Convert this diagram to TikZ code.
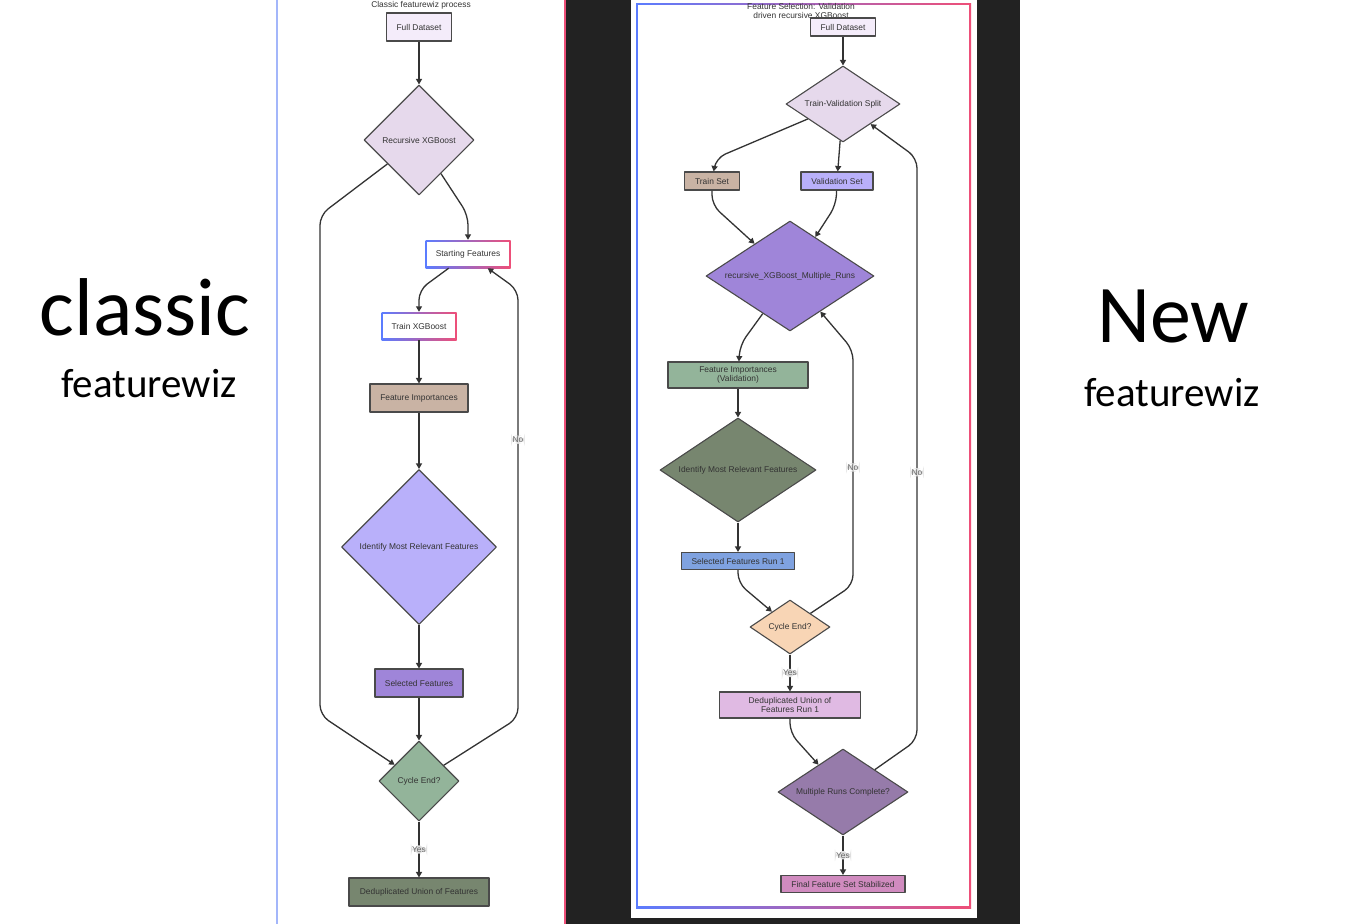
\documentclass[tikz,border=0pt]{standalone}
\usepackage{fontspec}
\setmainfont{Liberation Sans}
\newfontfamily\bigfont{Carlito}
\usetikzlibrary{arrows.meta,shapes.geometric}

\definecolor{ink}{HTML}{333333}
\definecolor{edgegray}{HTML}{4A4A4A}
\definecolor{darkbg}{HTML}{222222}
\definecolor{fblue}{HTML}{5B7CFF}
\definecolor{fpink}{HTML}{EE4F78}
\definecolor{lblue}{HTML}{A3B6FA}
\definecolor{taggray}{HTML}{DEDEDE}
\definecolor{lavender}{HTML}{F4ECFA}
\definecolor{mauve}{HTML}{E6D9EC}
\definecolor{tan}{HTML}{C9B3A4}
\definecolor{periwinkle}{HTML}{B9B0FA}
\definecolor{violet}{HTML}{9F85D9}
\definecolor{sage}{HTML}{93B49A}
\definecolor{moss}{HTML}{77866F}
\definecolor{skyblue}{HTML}{7FA2E0}
\definecolor{peach}{HTML}{F8D5B5}
\definecolor{orchid}{HTML}{E0BAE3}
\definecolor{plum}{HTML}{967BAA}
\definecolor{rose}{HTML}{D08BBF}

\begin{document}
\begin{tikzpicture}[x=1pt,y=-1pt,line join=round,
  >={Triangle[length=5.5pt,width=6pt]},
  every node/.style={font=\fontsize{8.4}{9.6}\selectfont,text=ink},
  box/.style={rectangle,draw=edgegray,line width=1.1pt,minimum height=28pt,inner sep=0pt,align=center},
  sbox/.style={box,minimum height=18pt},
  gbox/.style={rectangle,minimum height=28pt,inner sep=0pt,
    path picture={
      \shade[left color=fblue,right color=fpink]
        (path picture bounding box.south west) rectangle (path picture bounding box.north east);
      \fill[white]
        ([shift={(1.6pt,1.6pt)}]path picture bounding box.south west)
        rectangle ([shift={(-1.6pt,-1.6pt)}]path picture bounding box.north east);}},
  dia/.style={diamond,draw=edgegray,line width=1.1pt,inner sep=0pt},
  wdia/.style={dia,aspect=1.6},
  flow/.style={->,draw=ink,line width=1.3pt,rounded corners=10pt},
  tag/.style={fill=taggray,inner sep=1.2pt,text=ink!75},
  big/.style={font=\bigfont\fontsize{82}{82}\selectfont,text=black,anchor=base},
  mid/.style={font=\bigfont\fontsize{41}{41}\selectfont,text=black,anchor=base}]

  \useasboundingbox (0,0) rectangle (1350,924);
  \clip (0,0) rectangle (1350,924);

  % panels
  \fill[white] (0,0) rectangle (1350,924);
  \shade[left color=lblue,right color=fpink] (276,-5) rectangle (566,930);
  \fill[white] (278,-5) rectangle (563.5,930);
  \fill[darkbg] (566,0) rectangle (1020,924);
  \fill[white] (631,0) rectangle (977,918);
  \shade[left color=fblue,right color=fpink] (636,3) rectangle (971,908);
  \fill[white] (637.6,4.6) rectangle (969.4,906.4);

  \node[big] (classic) at (145,335) {classic};
  \node[mid] (fwA) at (149,397) {featurewiz};
  \node[big] (new) at (1173,342) {New};
  \node[mid] (fwB) at (1172,406) {featurewiz};

  % classic process
  \node[anchor=base] (titleA) at (421,7.5) {Classic featurewiz process};
  \node[box,fill=lavender,minimum width=65pt] (fullA) at (419,27) {Full Dataset};
  \node[dia,fill=mauve,minimum width=110pt,minimum height=110pt] (recA) at (419,140) {Recursive XGBoost};
  \node[gbox,minimum width=85pt] (startA) at (468,254) {Starting Features};
  \node[gbox,minimum width=75pt] (trainA) at (419,326) {Train XGBoost};
  \node[box,fill=tan,minimum width=98pt] (impA) at (419,398) {Feature Importances};
  \node[dia,fill=periwinkle,minimum width=155pt,minimum height=155pt] (identA) at (419,547) {Identify Most Relevant Features};
  \node[box,fill=violet,minimum width=88pt] (selA) at (419,683) {Selected Features};
  \node[dia,fill=sage,minimum width=80pt,minimum height=80pt] (cycA) at (419,781) {Cycle End?};
  \node[box,fill=moss,minimum width=140pt] (dedupA) at (419,892) {Deduplicated Union of Features};

  \draw[flow] (fullA) -- (recA);
  \draw[flow] (recA) -- (468,215) -- (startA);
  \draw[flow] (recA) -- (320,215) -- (320,715) -- (cycA);
  \draw[flow] (startA) -- (419,290) -- (trainA);
  \draw[flow] (trainA) -- (impA);
  \draw[flow] (impA) -- (identA);
  \draw[flow] (identA) -- (selA);
  \draw[flow] (selA) -- (cycA);
  \draw[flow] (cycA) -- (518,718) -- node[tag,pos=0.65] {No} (518,290) -- (startA);
  \draw[flow] (cycA) -- node[tag] {Yes} (dedupA);

  % validation driven process
  \node[align=center] (titleB) at (801,11) {Feature Selection: Validation\\driven recursive XGBoost};
  \node[sbox,fill=lavender,minimum width=65pt] (fullB) at (843,27) {Full Dataset};
  \node[wdia,fill=mauve,minimum width=114pt,minimum height=76pt] (splitB) at (843,104) {Train-Validation Split};
  \node[sbox,fill=tan,minimum width=55pt] (trainB) at (712,181) {Train Set};
  \node[sbox,fill=periwinkle,minimum width=72pt] (validB) at (837,181) {Validation Set};
  \node[wdia,fill=violet,minimum width=168pt,minimum height=110pt] (multiB) at (790,276) {recursive\_XGBoost\_Multiple\_Runs};
  \node[box,fill=sage,minimum width=140pt,minimum height=26pt] (impB) at (738,375) {Feature Importances\\(Validation)};
  \node[wdia,fill=moss,minimum width=156pt,minimum height=104pt] (identB) at (738,470) {Identify Most Relevant Features};
  \node[sbox,fill=skyblue,minimum width=113pt,minimum height=17pt] (selB) at (738,561) {Selected Features Run 1};
  \node[wdia,fill=peach,minimum width=80pt,minimum height=54pt] (cycB) at (790,627) {Cycle End?};
  \node[box,fill=orchid,minimum width=141pt,minimum height=26pt] (dedupB) at (790,705) {Deduplicated Union of\\Features Run 1};
  \node[wdia,fill=plum,minimum width=130pt,minimum height=86pt] (doneB) at (843,792) {Multiple Runs Complete?};
  \node[sbox,fill=rose,minimum width=124pt,minimum height=17pt] (finalB) at (843,884) {Final Feature Set Stabilized};

  \draw[flow] (fullB) -- (splitB);
  \draw[flow] (splitB) -- (716,158) -- (trainB);
  \draw[flow] (splitB) -- (validB);
  \draw[flow] (trainB) -- (712,205) -- (multiB);
  \draw[flow] (validB) -- (836,205) -- (multiB);
  \draw[flow] (multiB) -- (740,345) -- (impB);
  \draw[flow] (impB) -- (identB);
  \draw[flow] (identB) -- (selB);
  \draw[flow] (selB) -- (738,583) -- (cycB);
  \draw[flow] (cycB) -- (853,585) -- node[tag] {No} (853,350) -- (multiB);
  \draw[flow] (cycB) -- node[tag] {Yes} (dedupB);
  \draw[flow] (dedupB) -- (790,733) -- (doneB);
  \draw[flow] (doneB) -- (917,740) -- node[tag,pos=0.46] {No} (917,158) -- (splitB);
  \draw[flow] (doneB) -- node[tag] {Yes} (finalB);
\end{tikzpicture}
\end{document}
